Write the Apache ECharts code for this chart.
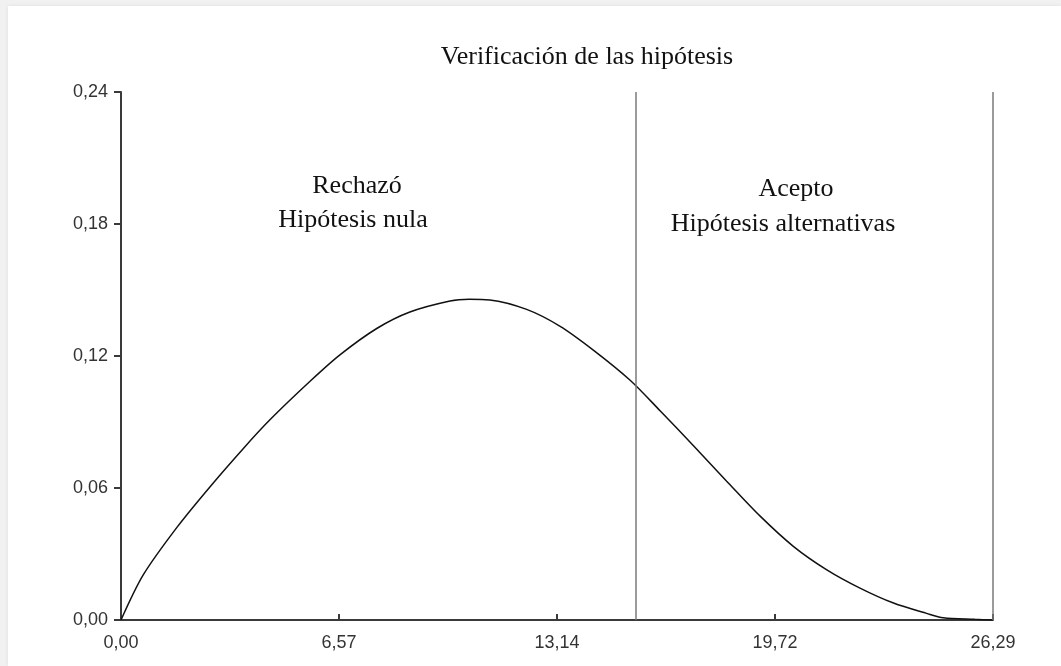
<!DOCTYPE html>
<html>
<head>
<meta charset="utf-8">
<script src="https://cdn.jsdelivr.net/npm/echarts@6/dist/echarts.min.js"></script>
<style>
  html, body { margin: 0; padding: 0; background: #f1f1f1; }
  #panel { position: absolute; left: 8px; top: 6px; width: 1053px; height: 660px; background: #ffffff; box-shadow: 0 0 4px rgba(0,0,0,0.08); }
  #chart { position: absolute; left: 0; top: 0; width: 1061px; height: 666px; }
</style>
</head>
<body>
<div id="panel"></div>
<div id="chart"></div>
<script>
// ---- data ----
const titleText = 'Verificación de las hipótesis';
const xValues = [0, 0.67, 1.68, 2.68, 3.69, 4.49, 5.70, 6.60, 7.71, 8.71, 9.92, 10.5, 11.12, 12.23, 13.24, 14.24, 15.35, 16.26, 17.26, 18.26, 19.27, 20.27, 21.28, 22.28, 23.29, 24.29, 24.79, 25.74, 26.29];
const yValues = [0, 0.0205, 0.0420, 0.0605, 0.0780, 0.0910, 0.1085, 0.1205, 0.1325, 0.1400, 0.1450, 0.1458, 0.1455, 0.1412, 0.1335, 0.1227, 0.1090, 0.0950, 0.0792, 0.0631, 0.0472, 0.0335, 0.0228, 0.0145, 0.0077, 0.0030, 0.0010, 0.0003, 0];
const xTickLabels = ['0,00', '6,57', '13,14', '19,72', '26,29'];
const yTickLabels = ['0,00', '0,06', '0,12', '0,18', '0,24'];
const xMax = 26.29;
const yMax = 0.24;
const criticalValue = 15.53;
const regionLabels = [
  ['Rechazó', 'Hipótesis nula'],
  ['Acepto', 'Hipótesis alternativas']
];

const xInterval = xMax / 4;
const yInterval = yMax / 4;
const points = xValues.map((x, i) => [x, yValues[i]]);

const serif = '"Liberation Serif", "Times New Roman", serif';
const sans = '"Liberation Sans", Arial, sans-serif';

const chart = echarts.init(document.getElementById('chart'), null, { renderer: 'canvas' });
const textStyle = (t) => ({ text: t, font: '26px ' + serif, fill: '#111', align: 'center', verticalAlign: 'middle' });

chart.setOption({
  backgroundColor: 'transparent',
  animation: false,
  grid: { left: 121, right: 68, top: 92, bottom: 46, containLabel: false },
  xAxis: {
    type: 'value', min: 0, max: xMax, interval: xInterval,
    axisLine: { show: true, lineStyle: { color: '#3a3a3a', width: 2 } },
    axisTick: { show: true, inside: true, length: 6, lineStyle: { color: '#3a3a3a', width: 2 } },
    splitLine: { show: false },
    axisLabel: {
      margin: 14, fontSize: 18, fontFamily: sans, color: '#333',
      formatter: (v) => xTickLabels[Math.round(v / xInterval)] ?? ''
    }
  },
  yAxis: {
    type: 'value', min: 0, max: yMax, interval: yInterval,
    axisLine: { show: true, lineStyle: { color: '#3a3a3a', width: 2 } },
    axisTick: { show: true, inside: false, length: 7, lineStyle: { color: '#3a3a3a', width: 2 } },
    splitLine: { show: false },
    axisLabel: {
      margin: 13, fontSize: 18, fontFamily: sans, color: '#333',
      formatter: (v) => yTickLabels[Math.round(v / yInterval)] ?? ''
    }
  },
  series: [{
    type: 'line',
    data: points,
    smooth: 0.3,
    showSymbol: false,
    lineStyle: { color: '#111', width: 1.5 },
    markLine: {
      silent: true,
      symbol: ['none', 'none'],
      label: { show: false },
      lineStyle: { color: '#7a7a7a', width: 1.5, type: 'solid' },
      data: [{ xAxis: criticalValue }, { xAxis: xMax }]
    }
  }],
  graphic: [
    { type: 'text', x: 587, y: 57, style: textStyle(titleText) },
    { type: 'text', x: 357, y: 186, style: textStyle(regionLabels[0][0]) },
    { type: 'text', x: 353, y: 220, style: textStyle(regionLabels[0][1]) },
    { type: 'text', x: 796, y: 189, style: textStyle(regionLabels[1][0]) },
    { type: 'text', x: 783, y: 224, style: textStyle(regionLabels[1][1]) }
  ]
});
</script>
</body>
</html>
